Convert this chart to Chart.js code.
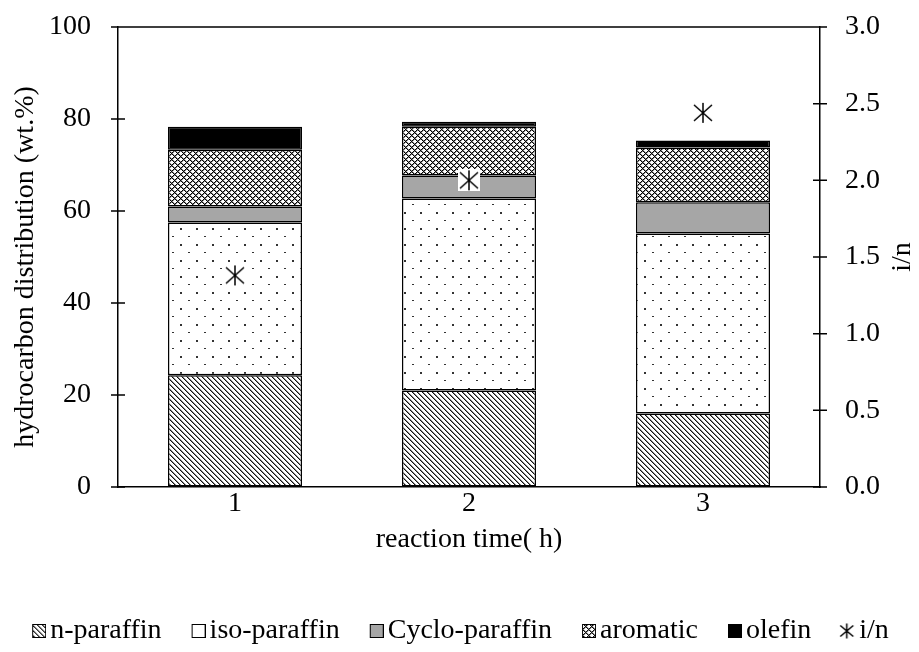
<!DOCTYPE html>
<html>
<head>
<meta charset="utf-8">
<script src="https://cdn.jsdelivr.net/npm/chart.js@4/dist/chart.umd.min.js"></script>
<style>
  html, body { margin: 0; padding: 0; background: #ffffff; }
  #wrap { width: 919px; height: 652px; }
</style>
</head>
<body>
<div id="wrap"><canvas id="c"></canvas></div>
<script>
// Hydrocarbon distribution per reaction time (wt.%) and the iso/normal ratio
const categories = ['1', '2', '3'];
const nParaffin = [24.3, 21.0, 16.0];
const isoParaffin = [33.2, 41.7, 39.1];
const cycloParaffin = [3.5, 5.0, 6.8];
const aromatic = [12.3, 10.6, 11.9];
const olefin = [5.0, 1.1, 1.5];
const isoNormalRatio = [1.38, 2.0, 2.44];
const seriesNames = ['n-paraffin', 'iso-paraffin', 'Cyclo-paraffin', 'aromatic', 'olefin', 'i/n'];
const leftTitle = 'hydrocarbon distribution (wt.%)';
const bottomTitle = 'reaction time( h)';
const leftTickStep = 20;
const rightTickStep = 0.5;

const FONT = 'Liberation Serif, "Times New Roman", serif';
const FONT_SIZE = 28;
const font = { family: FONT, size: FONT_SIZE };

// --- fill tiles ---------------------------------------------------------
function makeTile(w, h, paint) {
  const c = document.createElement('canvas');
  c.width = w; c.height = h;
  const g = c.getContext('2d');
  g.fillStyle = '#ffffff';
  g.fillRect(0, 0, w, h);
  paint(g);
  return c;
}
// dense downward diagonal hatch
const hatchTile = makeTile(5, 5, g => {
  for (let i = 0; i < 5; i++) {
    g.fillStyle = '#111111'; g.fillRect(i, i, 1, 1);
    g.fillStyle = '#8a8a8a'; g.fillRect((i + 1) % 5, i, 1, 1);
  }
});
// sparse staggered dots
const dotTile = makeTile(16, 16, g => {
  g.fillStyle = '#333333';
  g.fillRect(4, 4, 2, 2);
  g.fillRect(12, 12, 2, 1);
});
// diamond lattice
const latticeTile = makeTile(6, 6, g => {
  for (let y = 0; y < 6; y++) {
    for (let x = 0; x < 6; x++) {
      if ((x + y) % 6 === 0 || (x - y + 6) % 6 === 0) {
        g.fillStyle = '#000000'; g.fillRect(x, y, 1, 1);
      } else if ((x + y) % 6 === 1 || (x - y + 6) % 6 === 1) {
        g.fillStyle = '#8c8c8c'; g.fillRect(x, y, 1, 1);
      }
    }
  }
});

const canvas = document.getElementById('c');
const mainCtx = canvas.getContext('2d');
const fills = [
  mainCtx.createPattern(hatchTile, 'repeat'),
  mainCtx.createPattern(dotTile, 'repeat'),
  '#a6a6a6',
  mainCtx.createPattern(latticeTile, 'repeat'),
  '#000000'
];

// --- markers -------------------------------------------------------------
function starCanvas(w, h, size, offsetX, boxed) {
  const c = document.createElement('canvas');
  c.width = w; c.height = h;
  const g = c.getContext('2d');
  const x0 = offsetX, y0 = (h - size) / 2;
  if (boxed) { g.fillStyle = '#ffffff'; g.fillRect(x0, y0, size, size); }
  g.strokeStyle = '#000000';
  g.lineWidth = 1.5;
  const p = 2, q = size - 2, m = size / 2;
  g.beginPath();
  g.moveTo(x0 + p, y0 + p + 1); g.lineTo(x0 + q, y0 + q - 1);
  g.moveTo(x0 + q, y0 + p + 1); g.lineTo(x0 + p, y0 + q - 1);
  g.moveTo(x0 + m, y0 + 1); g.lineTo(x0 + m, y0 + size - 1);
  g.stroke();
  return c;
}
const starMarker = starCanvas(22, 22, 22, 0, true);

function legendBox(tile, color) {
  const c = document.createElement('canvas');
  c.width = 26; c.height = 16;
  const g = c.getContext('2d');
  g.fillStyle = tile ? g.createPattern(tile, 'repeat') : color;
  g.fillRect(12, 1, 14, 14);
  g.strokeStyle = '#000000';
  g.lineWidth = 1;
  g.strokeRect(12.5, 1.5, 13, 13);
  return c;
}
const legendIcons = [
  legendBox(hatchTile), legendBox(null, '#ffffff'), legendBox(null, '#a6a6a6'),
  legendBox(latticeTile), legendBox(null, '#000000'),
  starCanvas(26, 18, 17, 9, false)
];

// --- axis frame: tick marks crossing both axes, top border, axis titles --
const TICK_HALF = 7;
const framePlugin = {
  id: 'frame',
  afterDraw(chart) {
    const { ctx, chartArea: a, scales } = chart;
    ctx.save();
    ctx.strokeStyle = '#000000';
    ctx.lineWidth = 1.5;
    ctx.beginPath();
    ctx.moveTo(a.left, a.top); ctx.lineTo(a.right, a.top);
    scales.y.ticks.forEach(t => {
      const yy = scales.y.getPixelForValue(t.value);
      ctx.moveTo(a.left - TICK_HALF, yy); ctx.lineTo(a.left + TICK_HALF, yy);
    });
    scales.y1.ticks.forEach(t => {
      const yy = scales.y1.getPixelForValue(t.value);
      ctx.moveTo(a.right - TICK_HALF, yy); ctx.lineTo(a.right + TICK_HALF, yy);
    });
    ctx.stroke();
    ctx.fillStyle = '#000000';
    ctx.font = FONT_SIZE + 'px ' + FONT;
    ctx.textAlign = 'center';
    ctx.textBaseline = 'middle';
    const midY = (a.top + a.bottom) / 2;
    // left title, read bottom to top
    ctx.save();
    ctx.translate(26, midY + 10);
    ctx.rotate(-Math.PI / 2);
    ctx.fillText(leftTitle, 0, 0);
    ctx.restore();
    // right title, read bottom to top
    ctx.translate(903, midY);
    ctx.rotate(-Math.PI / 2);
    ctx.fillText(seriesNames[5], 0, 0);
    ctx.restore();
  }
};

const barSeries = [nParaffin, isoParaffin, cycloParaffin, aromatic, olefin];
const datasets = barSeries.map((data, i) => ({
  type: 'bar',
  label: seriesNames[i],
  data: data,
  backgroundColor: fills[i],
  borderColor: '#000000',
  borderWidth: 1.5,
  borderSkipped: false,
  barPercentage: 0.573,
  categoryPercentage: 1.0,
  yAxisID: 'y',
  order: 1
}));
datasets.push({
  type: 'line',
  label: seriesNames[5],
  data: isoNormalRatio,
  yAxisID: 'y1',
  showLine: false,
  pointStyle: starMarker,
  pointRadius: 11,
  pointHoverRadius: 11,
  order: 0
});

new Chart(canvas, {
  data: { labels: categories, datasets },
  plugins: [framePlugin],
  options: {
    responsive: true,
    maintainAspectRatio: false,
    animation: false,
    devicePixelRatio: 1,
    layout: { padding: { top: 27, left: 0, right: 0, bottom: -3 } },
    plugins: {
      tooltip: { enabled: false },
      legend: {
        position: 'bottom',
        labels: {
          usePointStyle: true,
          pointStyleWidth: 6,
          padding: 28,
          color: '#000000',
          font: font,
          sort: (a, b) => a.datasetIndex - b.datasetIndex,
          generateLabels(chart) {
            const items = Chart.defaults.plugins.legend.labels.generateLabels(chart);
            items.forEach(it => { it.pointStyle = legendIcons[it.datasetIndex]; });
            return items;
          }
        }
      }
    },
    scales: {
      x: {
        stacked: true,
        offset: true,
        grid: { display: false, drawTicks: false },
        border: { display: true, color: '#000000', width: 1.5 },
        ticks: { color: '#000000', font: font, padding: 0 },
        title: { display: true, text: bottomTitle, color: '#000000', font: font, padding: { top: 0, bottom: 33 } },
        afterFit(s) { s.height = 102; }
      },
      y: {
        stacked: true,
        position: 'left',
        min: 0, max: 100,
        ticks: { stepSize: leftTickStep, color: '#000000', font: font, padding: 0 },
        grid: { drawOnChartArea: false, drawTicks: true, tickLength: 27, tickColor: 'rgba(0,0,0,0)' },
        border: { display: true, color: '#000000', width: 1.5 },
        afterFit(s) { s.width = 118; }
      },
      y1: {
        position: 'right',
        min: 0, max: 3,
        ticks: { stepSize: rightTickStep, color: '#000000', font: font, padding: 0, callback: v => Number(v).toFixed(1) },
        grid: { drawOnChartArea: false, drawTicks: true, tickLength: 25, tickColor: 'rgba(0,0,0,0)' },
        border: { display: true, color: '#000000', width: 1.5 },
        afterFit(s) { s.width = 99; }
      }
    }
  }
});
</script>
</body>
</html>
